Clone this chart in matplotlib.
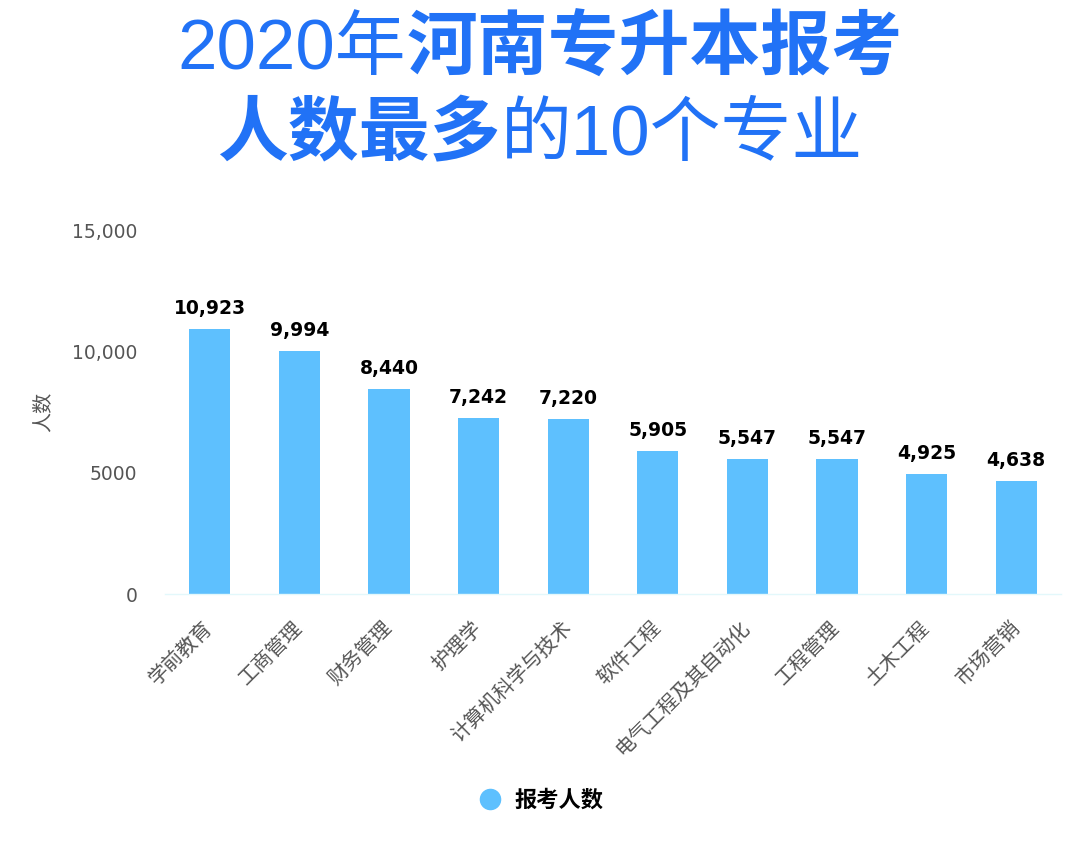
import matplotlib
matplotlib.use("Agg")
import matplotlib.pyplot as plt
from matplotlib.lines import Line2D

plt.rcParams['font.family'] = ['Noto Sans CJK SC', 'DejaVu Sans']

# data
majors = ["学前教育", "工商管理", "财务管理", "护理学", "计算机科学与技术",
          "软件工程", "电气工程及其自动化", "工程管理", "土木工程", "市场营销"]
applicants = [10923, 9994, 8440, 7242, 7220, 5905, 5547, 5547, 4925, 4638]
yticks = [0, 5000, 10000, 15000]
ytick_labels = ["0", "5000", "10,000", "15,000"]
series_name = "报考人数"
title_line1 = [("2020年", "normal"), ("河南专升本报考", "bold")]
title_line2 = [("人数最多", "bold"), ("的10个专业", "normal")]

bar_color = "#5ec0fe"
title_color = "#2172f6"
grey = "#555555"

W, H = 1080, 855
fig = plt.figure(figsize=(W / 100, H / 100), dpi=100)
ax = fig.add_axes([165 / W, 1 - 594 / H, 896 / W, 364 / H])

x = range(len(majors))
bars = ax.bar(x, applicants, width=0.46, color=bar_color, zorder=2)
ax.bar_label(bars, labels=[f"{v:,}" for v in applicants], padding=8,
             fontsize=13.5, fontweight='bold', color='black',
             fontfamily='DejaVu Sans')

ax.set_xlim(-0.5, len(majors) - 0.5)
ax.set_ylim(0, 15000)
ax.set_yticks(yticks)
ax.set_yticklabels(ytick_labels, fontfamily='DejaVu Sans', fontsize=13.5,
                   color=grey)
ax.tick_params(axis='y', length=0, pad=20)
ax.set_xticks(list(x))
ax.set_xticklabels(majors, rotation=45, ha='right', va='center',
                   rotation_mode='anchor', fontsize=14.5, color=grey)
ax.tick_params(axis='x', length=0, pad=22)

for s in ['top', 'right', 'left']:
    ax.spines[s].set_visible(False)
ax.spines['bottom'].set_color('#e3f8fb')
ax.spines['bottom'].set_linewidth(1.0)

ax.set_ylabel("人数", fontsize=14.5, color=grey)
ax.yaxis.set_label_coords(-0.125, 0.5)

# legend
handle = Line2D([], [], marker='o', ls='', color=bar_color, markersize=14.5)
fig.legend([handle], [series_name], loc='center',
           bbox_to_anchor=(541 / W, 1 - 800 / H), frameon=False,
           prop={'size': 16, 'weight': 'bold'}, handlelength=1.0,
           handletextpad=0.6)

# two-line title with mixed weights
fig.canvas.draw()
renderer = fig.canvas.get_renderer()


def title_row(parts, y_px):
    texts = []
    for s, w in parts:
        t = fig.text(0, 1 - y_px / H, s, fontsize=51, fontweight=w,
                     color=title_color, ha='left', va='center',
                     fontfamily=['Liberation Sans', 'Noto Sans CJK SC'])
        texts.append(t)
    widths = [t.get_window_extent(renderer).width for t in texts]
    left = (W - sum(widths)) / 2
    for t, wd in zip(texts, widths):
        t.set_x(left / W)
        left += wd


title_row(title_line1, 51)
title_row(title_line2, 137)

fig.savefig("out.png", dpi=100)
